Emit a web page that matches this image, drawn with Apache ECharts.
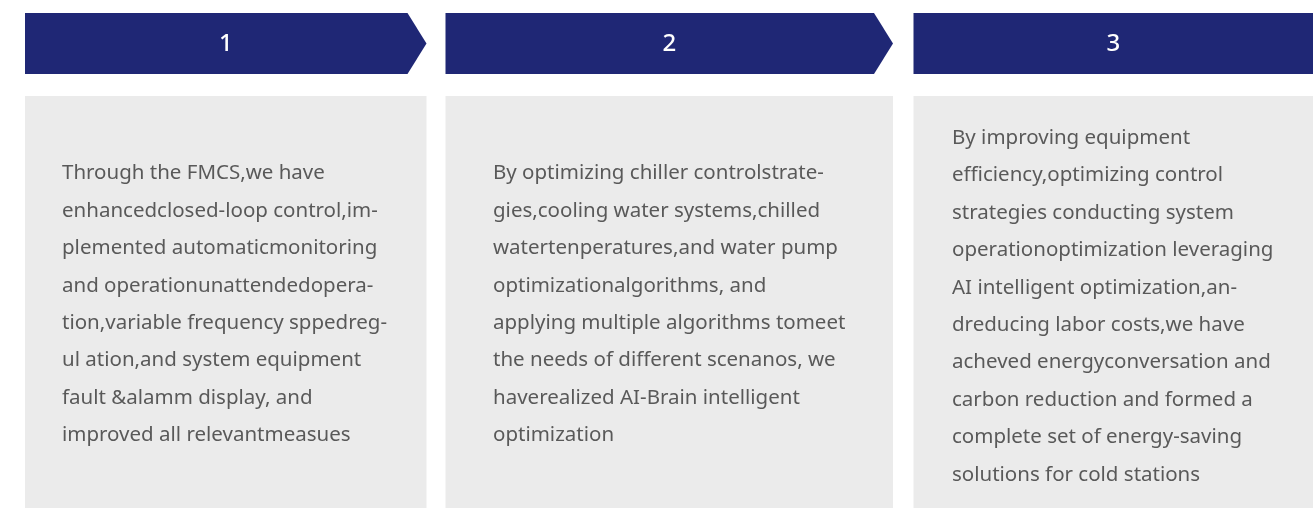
<!DOCTYPE html>
<html>
<head>
<meta charset="utf-8">
<style>
html,body{margin:0;padding:0;background:#fff;}
#chart{width:1315px;height:509px;}
</style>
<script src="https://cdn.jsdelivr.net/npm/echarts@6/dist/echarts.min.js"></script>
</head>
<body>
<div id="chart"></div>
<script>
var stepLabels = ['1', '2', '3'];
var step1Lines = [
  'Through the FMCS,we have',
  'enhancedclosed-loop control,im-',
  'plemented automaticmonitoring',
  'and operationunattendedopera-',
  'tion,variable frequency sppedreg-',
  'ul ation,and system equipment',
  'fault &alamm display, and',
  'improved all relevantmeasues'
];
var step2Lines = [
  'By optimizing chiller controlstrate-',
  'gies,cooling water systems,chilled',
  'watertenperatures,and water pump',
  'optimizationalgorithms, and',
  'applying multiple algorithms tomeet',
  'the needs of different scenanos, we',
  'haverealized AI-Brain intelligent',
  'optimization'
];
var step3Lines = [
  'By improving equipment',
  'efficiency,optimizing control',
  'strategies conducting system',
  'operationoptimization leveraging',
  'AI intelligent optimization,an-',
  'dreducing labor costs,we have',
  'acheved energyconversation and',
  'carbon reduction and formed a',
  'complete set of energy-saving',
  'solutions for cold stations'
];
var stepTexts = [step1Lines, step2Lines, step3Lines];

var chart = echarts.init(document.getElementById('chart'), null, {renderer: 'canvas'});

var panels = [
  {x0: 25, x1: 426.5, arrow: true, textX: 62, textY: 304.5},
  {x0: 445.5, x1: 893, arrow: true, textX: 493, textY: 304.5},
  {x0: 913.5, x1: 1313, arrow: false, textX: 952, textY: 306.5}
];
var headTop = 13, headBot = 74, tipW = 19;
var boxTop = 96, boxBot = 508;
var headColor = '#1f2775';
var boxColor = '#ebebeb';
var textColor = '#595959';
var fontFamily = '"Noto Sans", sans-serif';

var elements = [];
panels.forEach(function (p, i) {
  var pts;
  if (p.arrow) {
    pts = [[p.x0, headTop], [p.x1 - tipW, headTop], [p.x1, (headTop + headBot) / 2], [p.x1 - tipW, headBot], [p.x0, headBot]];
  } else {
    pts = [[p.x0, headTop], [p.x1, headTop], [p.x1, headBot], [p.x0, headBot]];
  }
  elements.push({
    type: 'polygon',
    shape: {points: pts},
    style: {fill: headColor}
  });
  elements.push({
    type: 'text',
    x: (p.x0 + p.x1) / 2,
    y: (headTop + headBot) / 2 + 1,
    style: {
      text: stepLabels[i],
      fill: '#ffffff',
      font: '500 24px ' + fontFamily,
      align: 'center',
      verticalAlign: 'middle'
    }
  });
  elements.push({
    type: 'rect',
    shape: {x: p.x0, y: boxTop, width: p.x1 - p.x0, height: boxBot - boxTop},
    style: {fill: boxColor}
  });
  elements.push({
    type: 'text',
    x: p.textX,
    y: p.textY,
    style: {
      text: stepTexts[i].join('\n'),
      fill: textColor,
      font: '20.5px ' + fontFamily,
      lineHeight: 37.4,
      align: 'left',
      verticalAlign: 'middle'
    }
  });
});

chart.setOption({
  backgroundColor: '#ffffff',
  animation: false,
  graphic: {elements: elements}
});
</script>
</body>
</html>
